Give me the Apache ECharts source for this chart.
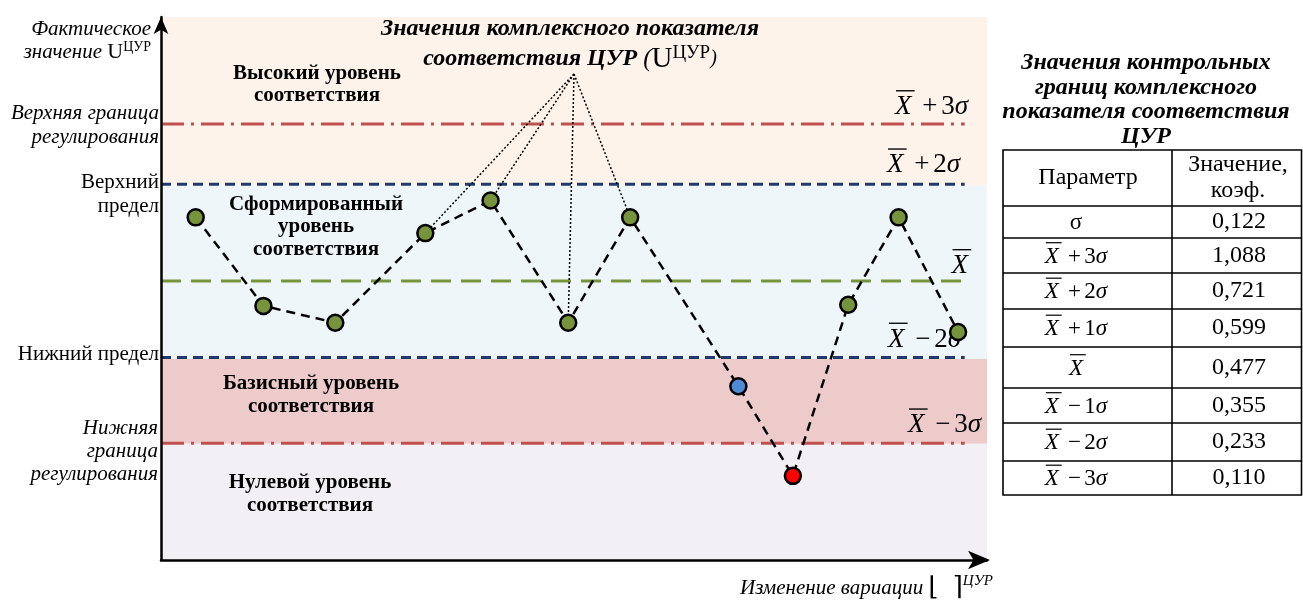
<!DOCTYPE html>
<html><head><meta charset="utf-8">
<script src="https://cdn.jsdelivr.net/npm/echarts@6/dist/echarts.min.js"></script>
<style>html,body{margin:0;padding:0;background:#fff}#c{width:1303px;height:603px}</style>
</head><body><div id="c"></div>
<script>
// ---------------- DATA ----------------
// Schematic scale: x and y both run 0..100 (abstract units of the diagram)
const pointX = [4.2, 12.4, 21.1, 32.0, 39.9, 49.3, 56.8, 69.9, 76.5, 83.2, 89.3, 96.5];
const pointY = [63.1, 46.8, 43.7, 60.2, 66.2, 43.7, 63.1, 32.0, 15.5, 47.0, 63.1, 42.0];
const pointLevel = ['formed','formed','formed','formed','formed','formed','formed','basic','zero','formed','formed','formed'];
const controlNames = ['X+3σ', 'X+2σ', 'X', 'X−2σ', 'X−3σ'];
const controlValues = [80.3, 69.2, 51.4, 37.3, 21.5];
const controlEnd = 97.3;
const zoneNames = ['Высокий уровень\nсоответствия', 'Сформированный\nуровень\nсоответствия', 'Базисный уровень\nсоответствия', 'Нулевой уровень\nсоответствия'];
const zoneFrom = [68.9, 37.0, 21.4, 0];
const zoneTo = [100, 68.9, 37.0, 21.4];
const calloutApex = [50.0, 89.5];
const calloutTargets = [3, 4, 5, 6];
const tableParams = ['σ', 'X+3σ', 'X+2σ', 'X+1σ', 'X', 'X−1σ', 'X−2σ', 'X−3σ'];
const tableValues = ['0,122', '1,088', '0,721', '0,599', '0,477', '0,355', '0,233', '0,110'];

// ---------------- STYLE / LAYOUT ----------------
const FONT = '"Liberation Serif", "DejaVu Serif", serif';
const levelColors = { formed: '#77933C', basic: '#4F8AD6', zero: '#FF0000' };
const zoneColors = ['#FDF3EB', '#EEF6FA', '#EDCBCB', '#F2F0F5'];
const controlStyles = [
  { color: '#C0504D', width: 3, type: [23, 7, 3, 7] },
  { color: '#1F3A6E', width: 3, type: [10, 6] },
  { color: '#77933C', width: 3, type: [20, 10] },
  { color: '#1F3A6E', width: 3, type: [10, 6] },
  { color: '#C0504D', width: 3, type: [23, 7, 3, 7] }
];
const controlLabelRight = [968, 960, 968, 961, 981];
const controlLabelDy = [-2, -4, 0, -3, -3];
const zoneLabelPos = [[317, 85, 22], [316, 227, 22.5], [311, 395, 23], [310, 494, 23]];

const mctx = document.createElement('canvas').getContext('2d');
function measure(text, size, italic, bold) {
  mctx.font = (italic ? 'italic ' : '') + (bold ? 'bold ' : '') + size + 'px "Liberation Serif"';
  return mctx.measureText(text).width;
}
function mathTokens(name, size) {
  if (name === 'σ') return [{ t: 'σ' }];
  if (name === 'X') return [{ t: 'X', italic: true, bar: true }];
  const m = name.match(/^X([+−])(\d)σ$/);
  return [
    { t: 'X', italic: true, bar: true },
    { t: m[1], padL: size * 0.4, padR: size * 0.14 },
    { t: m[2] },
    { t: 'σ', italic: true }
  ];
}
function mathLabel(name, size, x, yMid, align, z) {
  const toks = mathTokens(name, size);
  let W = 0;
  toks.forEach(k => { k.w = measure(k.t, size, k.italic); W += (k.padL || 0) + k.w + (k.padR || 0); });
  let cur = align === 'right' ? x - W : (align === 'center' ? x - W / 2 : x);
  const out = [];
  toks.forEach(k => {
    cur += (k.padL || 0);
    out.push({ type: 'text', x: cur, y: yMid, z: z, silent: true,
      style: { text: k.t, fill: '#000', fontFamily: FONT, fontSize: size, fontStyle: k.italic ? 'italic' : 'normal', align: 'left', verticalAlign: 'middle' } });
    if (k.bar) {
      out.push({ type: 'line', z: z, silent: true,
        shape: { x1: cur + size * 0.04, y1: yMid - size * 0.6, x2: cur + k.w + size * 0.12, y2: yMid - size * 0.6 },
        style: { stroke: '#000', lineWidth: Math.max(1.2, size * 0.05) } });
    }
    cur += k.w + (k.padR || 0);
  });
  return out;
}
function T(x, y, text, st) {
  return {
    type: 'text', x: x, y: y, z: 50, silent: true,
    style: Object.assign({ text: text, fill: '#000', fontFamily: FONT, fontSize: 21, align: 'center', verticalAlign: 'middle' }, st)
  };
}

// ---------------- CHART ----------------
const chart = echarts.init(document.getElementById('c'));
const axisCommon = {
  type: 'value', min: 0, max: 100, z: 20,
  axisTick: { show: false }, axisLabel: { show: false }, splitLine: { show: false }
};
const series = [];
series.push({
  type: 'line', z: 1, silent: true, data: [], symbol: 'none',
  markArea: {
    silent: true,
    data: zoneFrom.map((f, i) => [
      { xAxis: 0, yAxis: f, itemStyle: { color: zoneColors[i] } },
      { xAxis: 100, yAxis: zoneTo[i] }
    ])
  }
});
controlValues.forEach((v, i) => {
  series.push({
    type: 'line', z: 3, silent: true, symbol: 'none',
    data: [[0, v], [controlEnd, v]],
    lineStyle: controlStyles[i]
  });
});
calloutTargets.forEach(idx => {
  series.push({
    type: 'line', z: 4, silent: true, symbol: 'none',
    data: [calloutApex, [pointX[idx], pointY[idx]]],
    lineStyle: { color: '#000', width: 1.5, type: [2, 2] }
  });
});
series.push({
  type: 'line', z: 60, silent: true,
  symbol: 'circle', symbolSize: 16,
  data: pointX.map((x, i) => ({ value: [x, pointY[i]], itemStyle: { color: levelColors[pointLevel[i]], borderColor: '#000', borderWidth: 2.5 } })),
  lineStyle: { color: '#000', width: 2.5, type: [9, 6] }
});

chart.setOption({
  animation: false,
  grid: { left: 161, right: 316, top: 17, bottom: 43, containLabel: false },
  xAxis: Object.assign({}, axisCommon, {
    axisLine: { show: true, symbol: ['none', 'arrow'], symbolSize: [14, 22], symbolOffset: [0, 3], lineStyle: { color: '#000', width: 2.5 } }
  }),
  yAxis: Object.assign({}, axisCommon, {
    axisLine: { show: true, symbol: ['none', 'arrow'], symbolSize: [11, 17], symbolOffset: [0, 0], lineStyle: { color: '#000', width: 2.5 } }
  }),
  series: series
});

// ---------------- ANNOTATIONS ----------------
let g = [];
const px = (x, y) => chart.convertToPixel({ gridIndex: 0 }, [x, y]);

// control line labels
controlNames.forEach((nm, i) => {
  const p = px(controlEnd, controlValues[i]);
  g = g.concat(mathLabel(nm, 27, controlLabelRight[i], p[1] + controlLabelDy[i] - 15, 'right', 50));
});
// zone labels
zoneNames.forEach((nm, i) => {
  const L = zoneLabelPos[i];
  g.push(T(L[0], L[1], nm, { fontWeight: 'bold', fontSize: 21, lineHeight: L[2] }));
});
// main title
g.push(T(570, 14, '{t|Значения комплексного показателя}\n{t|соответствия ЦУР }{p|(}{u|U}{sup|ЦУР}{q|)}', {
  verticalAlign: 'top',
  rich: {
    t: { fontFamily: FONT, fontStyle: 'italic', fontWeight: 'bold', fontSize: 24, lineHeight: 30 },
    p: { fontFamily: FONT, fontStyle: 'italic', fontSize: 25, lineHeight: 30 },
    q: { fontFamily: FONT, fontStyle: 'italic', fontSize: 20, lineHeight: 30 },
    u: { fontFamily: FONT, fontSize: 29, lineHeight: 30 },
    sup: { fontFamily: FONT, fontSize: 19, lineHeight: 16, verticalAlign: 'top' }
  }
}));
// left axis labels
g.push(T(151, 17.5, '{i|Фактическое}\n{i|значение }{u|U}{sup|ЦУР}', {
  align: 'right', verticalAlign: 'top',
  rich: {
    i: { fontFamily: FONT, fontStyle: 'italic', fontSize: 21, lineHeight: 23 },
    u: { fontFamily: FONT, fontSize: 22, lineHeight: 23 },
    sup: { fontFamily: FONT, fontSize: 14, lineHeight: 14, verticalAlign: 'top' }
  }
}));
g.push(T(159, 101, 'Верхняя граница\nрегулирования', { align: 'right', verticalAlign: 'top', fontStyle: 'italic', fontSize: 21, lineHeight: 24 }));
g.push(T(159, 170, 'Верхний\nпредел', { align: 'right', verticalAlign: 'top', fontSize: 21, lineHeight: 24 }));
g.push(T(159, 354, 'Нижний предел', { align: 'right', fontSize: 21 }));
g.push(T(158, 416.5, 'Нижняя\nграница\nрегулирования', { align: 'right', verticalAlign: 'top', fontStyle: 'italic', fontSize: 21, lineHeight: 23 }));
// x-axis name
g.push(T(740, 588, '{t|Изменение вариации }{b|⌊}{g| }{b|⌉}{sup|ЦУР}', {
  align: 'left',
  rich: {
    t: { fontFamily: FONT, fontStyle: 'italic', fontSize: 21, lineHeight: 28 },
    b: { fontFamily: FONT, fontSize: 26, lineHeight: 28 },
    g: { fontFamily: FONT, fontSize: 26, lineHeight: 28, width: 14 },
    sup: { fontFamily: FONT, fontStyle: 'italic', fontSize: 15, lineHeight: 15, verticalAlign: 'top' }
  }
}));
// right table title
g.push(T(1146, 50.75, 'Значения контрольных\nграниц комплексного\nпоказателя соответствия\nЦУР', {
  verticalAlign: 'top', fontStyle: 'italic', fontWeight: 'bold', fontSize: 24, lineHeight: 24.5
}));
// table
const tblX = [1003, 1172, 1301.5];
const tblY = [150, 206, 238, 273, 309, 347, 388, 423, 461, 495];
const lineStyleT = { stroke: '#000', lineWidth: 1.6 };
g.push({ type: 'rect', z: 50, silent: true, shape: { x: tblX[0], y: tblY[0], width: tblX[2] - tblX[0], height: tblY[tblY.length - 1] - tblY[0] }, style: Object.assign({ fill: '#fff' }, lineStyleT) });
for (let k = 1; k < tblY.length - 1; k++) {
  g.push({ type: 'line', z: 51, silent: true, shape: { x1: tblX[0], y1: tblY[k], x2: tblX[2], y2: tblY[k] }, style: lineStyleT });
}
g.push({ type: 'line', z: 51, silent: true, shape: { x1: tblX[1], y1: tblY[0], x2: tblX[1], y2: tblY[tblY.length - 1] }, style: lineStyleT });
g.push(Object.assign(T(1088, (tblY[0] + tblY[1]) / 2, 'Параметр', { fontSize: 24 }), { z: 52 }));
g.push(Object.assign(T(1238, (tblY[0] + tblY[1]) / 2, 'Значение,\nкоэф.', { fontSize: 24, lineHeight: 26 }), { z: 52 }));
tableParams.forEach((p, i) => {
  const cy = (tblY[i + 1] + tblY[i + 2]) / 2;
  g = g.concat(mathLabel(p, 23, 1076, cy + 1, 'center', 52));
  g.push(Object.assign(T(1239, cy, tableValues[i], { fontSize: 24 }), { z: 52 }));
});

chart.setOption({ graphic: { elements: g } });
</script>
</body></html>
